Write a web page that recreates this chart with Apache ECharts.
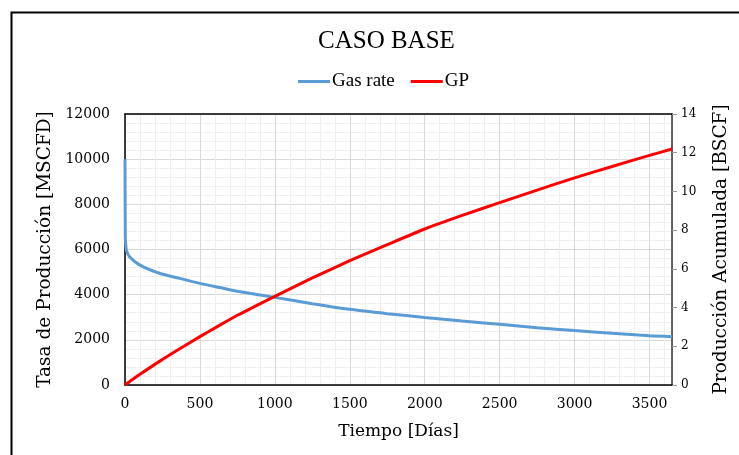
<!DOCTYPE html>
<html>
<head>
<meta charset="utf-8">
<script src="https://cdn.jsdelivr.net/npm/echarts@6/dist/echarts.min.js"></script>
<style>html,body{margin:0;padding:0;background:#fff}#c{width:739px;height:455px}</style>
</head>
<body>
<div id="c"></div>
<script>
const days    = [0, 2, 5, 10, 30, 100, 230, 365, 500, 630, 760, 1000, 1250, 1500, 1750, 2000, 2250, 2500, 2750, 3000, 3250, 3500, 3650];
const gasRate = [10000, 6600, 6200, 5950, 5680, 5310, 4950, 4720, 4500, 4320, 4140, 3880, 3600, 3350, 3160, 2990, 2830, 2690, 2540, 2410, 2290, 2180, 2140];
const gp      = [0, 0.01, 0.03, 0.06, 0.17, 0.55, 1.22, 1.87, 2.50, 3.08, 3.64, 4.58, 5.53, 6.42, 7.25, 8.06, 8.76, 9.42, 10.07, 10.70, 11.29, 11.86, 12.19];
const titleText = 'CASO BASE';
const seriesNames = ['Gas rate', 'GP'];
const xName = 'Tiempo [Días]';
const yLeftName = 'Tasa de Producción [MSCFD]';
const yRightName = 'Producción Acumulada [BSCF]';

const serif = 'DejaVu Serif';
const chart = echarts.init(document.getElementById('c'), null, {renderer: 'canvas'});
const toPairs = (xs, ys) => xs.map((x, i) => [x, ys[i]]);
const plain = v => String(v);

chart.setOption({
  animation: false,
  backgroundColor: '#fff',
  graphic: [{
    type: 'rect', left: 9, top: 10, z: 100, silent: true,
    shape: {x: 0, y: 0, width: 740, height: 460},
    style: {fill: 'none', stroke: '#000', lineWidth: 2}
  }],
  title: {
    text: titleText, left: 313, top: 24,
    textStyle: {fontFamily: 'Liberation Serif', fontSize: 25, fontWeight: 'normal', color: '#000'}
  },
  legend: {
    top: 67, left: 293, itemGap: 16,
    icon: 'rect', itemWidth: 32, itemHeight: 3,
    textStyle: {fontFamily: 'Liberation Serif', fontSize: 19, color: '#000', padding: [0, 0, 0, -3]},
    data: seriesNames
  },
  grid: {left: 125, right: 66, top: 114, bottom: 70, containLabel: false},
  xAxis: [{
    type: 'value', min: 0, max: 3650, interval: 500,
    name: xName, nameLocation: 'middle', nameGap: 38,
    nameTextStyle: {fontFamily: serif, fontSize: 17, color: '#000'},
    axisLine: {show: true, onZero: false, lineStyle: {color: '#000', width: 1.5}},
    axisTick: {show: false},
    axisLabel: {fontFamily: serif, fontSize: 14, color: '#000', margin: 12, showMaxLabel: false, formatter: plain},
    splitLine: {show: true, lineStyle: {color: '#d9d9d9', width: 1}},
    minorTick: {show: false, splitNumber: 5},
    minorSplitLine: {show: true, lineStyle: {color: '#efefef', width: 1}}
  }, {
    type: 'value', position: 'top', min: 0, max: 3650,
    axisLine: {show: true, onZero: false, lineStyle: {color: '#000', width: 1.5}},
    axisTick: {show: false}, axisLabel: {show: false}, splitLine: {show: false}
  }],
  yAxis: [{
    type: 'value', min: 0, max: 12000, interval: 2000, position: 'left',
    name: yLeftName, nameLocation: 'middle', nameGap: 68,
    nameTextStyle: {fontFamily: serif, fontSize: 18.5, color: '#000'},
    axisLine: {show: true, onZero: false, lineStyle: {color: '#000', width: 1.5}},
    axisTick: {show: false},
    axisLabel: {fontFamily: serif, fontSize: 14, color: '#000', margin: 15, formatter: plain},
    splitLine: {show: true, lineStyle: {color: '#d9d9d9', width: 1}},
    minorTick: {show: false, splitNumber: 5},
    minorSplitLine: {show: true, lineStyle: {color: '#efefef', width: 1}}
  }, {
    type: 'value', min: 0, max: 14, interval: 2, position: 'right',
    name: yRightName, nameLocation: 'middle', nameGap: 40, nameRotate: 90,
    nameTextStyle: {fontFamily: serif, fontSize: 18.5, color: '#000'},
    axisLine: {show: true, onZero: false, lineStyle: {color: '#333', width: 1.5}},
    axisTick: {show: true, length: 5, lineStyle: {color: '#999'}},
    axisLabel: {fontFamily: serif, fontSize: 12, color: '#000', margin: 9, formatter: plain},
    splitLine: {show: false}
  }],
  series: [{
    name: seriesNames[0], type: 'line', xAxisIndex: 0, yAxisIndex: 0,
    data: toPairs(days, gasRate), showSymbol: false, smooth: 0.2,
    lineStyle: {color: '#5b9bd5', width: 3}, itemStyle: {color: '#5b9bd5'}, z: 3
  }, {
    name: seriesNames[1], type: 'line', xAxisIndex: 0, yAxisIndex: 1,
    data: toPairs(days, gp), showSymbol: false, smooth: 0.2,
    lineStyle: {color: '#ff0000', width: 3}, itemStyle: {color: '#ff0000'}, z: 4
  }]
});
</script>
</body>
</html>
